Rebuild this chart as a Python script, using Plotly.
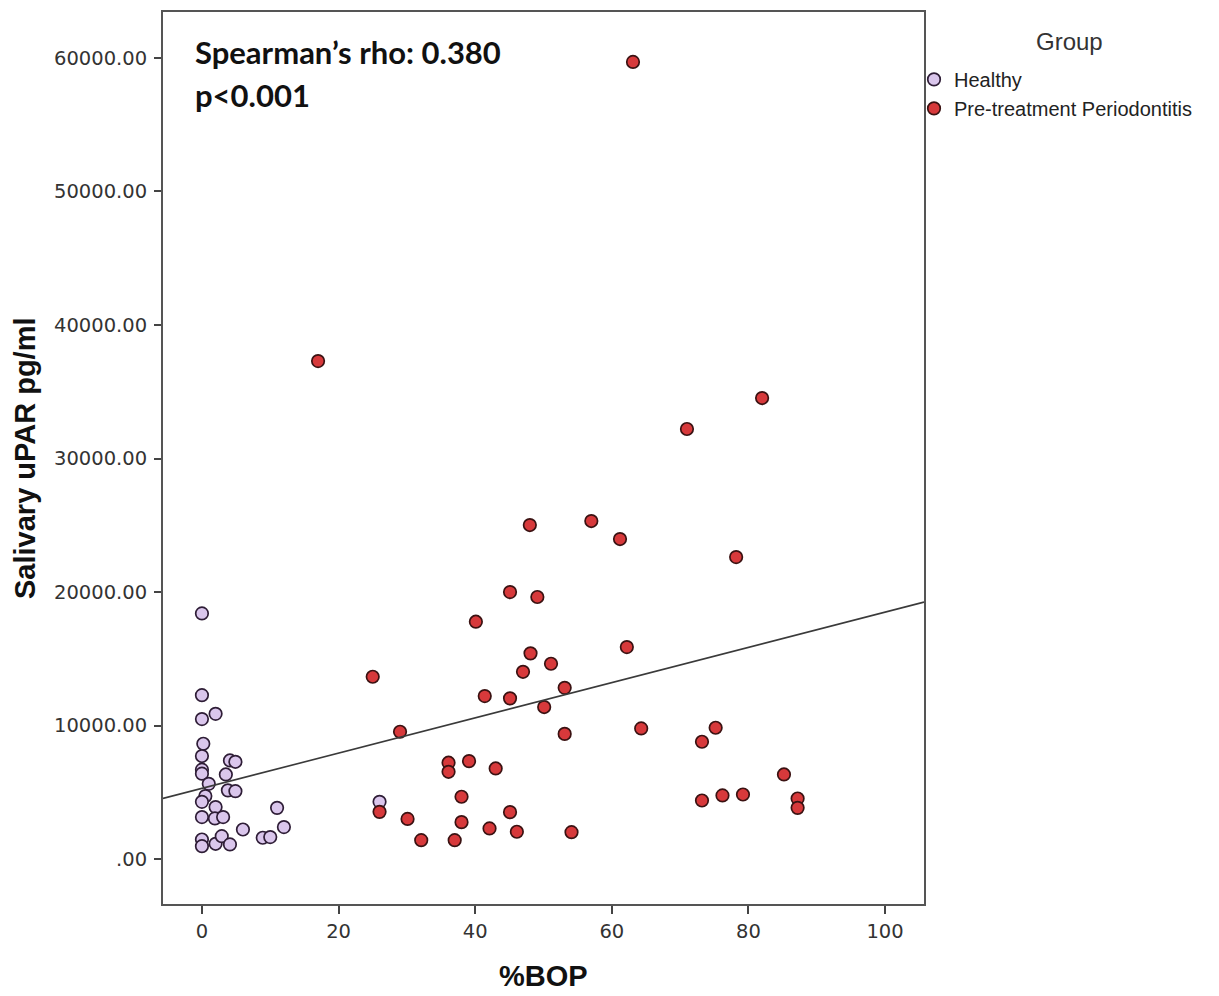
import plotly.graph_objects as go

# ---------------- data ----------------
healthy_bop = [0, 0, 0, 2.0, 0.2, 0, 0, 0, 4.1, 4.9, 3.5, 1.0, 0.5, 3.8, 4.9,
               0, 2.0, 0, 1.9, 3.1, 6.0, 0, 0, 2.0, 2.9, 4.1, 8.9, 10, 11, 12, 26]
healthy_upar = [18400, 12280, 10490, 10880, 8640, 7720, 6700, 6400, 7390, 7290,
                6340, 5640, 4720, 5150, 5090, 4290, 3900, 3150, 3050, 3150, 2220,
                1470, 970, 1150, 1720, 1100, 1600, 1650, 3840, 2400, 4290]

perio_bop = [63.1, 17.0, 82.0, 71.0, 57.0, 48.0, 61.2, 78.2, 45.1, 49.1, 40.1,
             62.2, 48.1, 51.1, 47.0, 25.0, 53.1, 41.4, 45.1, 50.1, 64.3, 29.0,
             53.1, 75.2, 73.2, 36.1, 36.1, 39.1, 43.0, 85.2, 38.0, 73.2, 76.2,
             79.2, 87.2, 87.2, 26.0, 45.1, 30.1, 38.0, 42.1, 46.1, 54.1, 32.1, 37.0]
perio_upar = [59700, 37300, 34530, 32210, 25320, 25020, 23970, 22620, 20000, 19630,
              17780, 15880, 15410, 14630, 14030, 13660, 12830, 12210, 12040, 11390,
              9790, 9540, 9380, 9840, 8790, 7220, 6540, 7340, 6790, 6340, 4670, 4390,
              4770, 4840, 4540, 3840, 3540, 3520, 3010, 2770, 2300, 2050, 2020, 1420, 1420]

fit_intercept = 5300
fit_slope = 132

x_range = [-5.7, 105.7]
y_range = [-3360, 63440]

x_tickvals = [0, 20, 40, 60, 80, 100]
y_tickvals = [0, 10000, 20000, 30000, 40000, 50000, 60000]
y_ticktext = [".00", "10000.00", "20000.00", "30000.00", "40000.00", "50000.00", "60000.00"]

group_names = ["Healthy", "Pre-treatment Periodontitis"]
# -----------------------------------------------------------------

fig = go.Figure()

fig.add_trace(go.Scatter(
    x=healthy_bop, y=healthy_upar, mode="markers", name=group_names[0],
    marker=dict(size=12.5, color="#dac6ec", line=dict(color="#2e1d36", width=1.7)),
))
fig.add_trace(go.Scatter(
    x=perio_bop, y=perio_upar, mode="markers", name=group_names[1],
    marker=dict(size=12.5, color="#d7393b", line=dict(color="#3a1212", width=1.7)),
))

line_x = list(x_range)
line_y = [fit_intercept + fit_slope * v for v in line_x]
fig.add_trace(go.Scatter(
    x=line_x, y=line_y, mode="lines", showlegend=False,
    line=dict(color="#3a3a3a", width=1.6), hoverinfo="skip",
))

tick_font = dict(family="DejaVu Sans", size=19.5, color="#333333")

fig.update_xaxes(
    range=x_range, tickvals=x_tickvals, showgrid=False, zeroline=False,
    showline=True, mirror=True, linecolor="#555555", linewidth=2,
    ticks="outside", ticklen=8, tickwidth=2, tickcolor="#444444",
    tickfont=tick_font, ticklabelstandoff=1,
)
fig.update_yaxes(
    range=y_range, tickvals=y_tickvals, ticktext=y_ticktext, showgrid=False,
    zeroline=False, showline=True, mirror=True, linecolor="#555555", linewidth=2,
    ticks="outside", ticklen=7, tickwidth=2, tickcolor="#444444",
    tickfont=tick_font, ticklabelstandoff=3,
)

L, R, T, B = 163, 295, 10, 92
W, H = 1219, 996
pw, ph = W - L - R, H - T - B

def px(xp):
    return (xp - L) / pw

def py(yp):
    return (H - B - yp) / ph

annotations = [
    dict(text="Spearman\u2019s rho: 0.380", x=px(193), y=py(50), xanchor="left",
         yanchor="middle", font=dict(family="Lato", size=31, color="#111111", weight="bold")),
    dict(text="p<0.001", x=px(193), y=py(93), xanchor="left", yanchor="middle",
         font=dict(family="Lato", size=31, color="#111111", weight="bold")),
    dict(text="%BOP", x=0.5, y=py(976), xanchor="center", yanchor="middle",
         font=dict(family="Liberation Sans", size=29, color="#111111", weight="bold")),
    dict(text="Salivary uPAR pg/ml", x=px(25), y=0.5, xanchor="center", yanchor="middle",
         textangle=-90,
         font=dict(family="Liberation Sans", size=29, color="#111111", weight="bold")),
    dict(text="Group", x=px(1069), y=py(40), xanchor="center", yanchor="middle",
         font=dict(family="Liberation Sans", size=24, color="#333333")),
]
for a in annotations:
    a.update(xref="paper", yref="paper", showarrow=False)

fig.update_layout(
    width=W, height=H,
    margin=dict(l=L, r=R, t=T, b=B),
    plot_bgcolor="white", paper_bgcolor="white",
    annotations=annotations,
    legend=dict(x=px(914), y=py(58), xanchor="left", yanchor="top",
                font=dict(family="Liberation Sans", size=20, color="#222222"),
                itemwidth=30, tracegroupgap=0, bgcolor="rgba(0,0,0,0)"),
)

fig.write_html("out.html")
